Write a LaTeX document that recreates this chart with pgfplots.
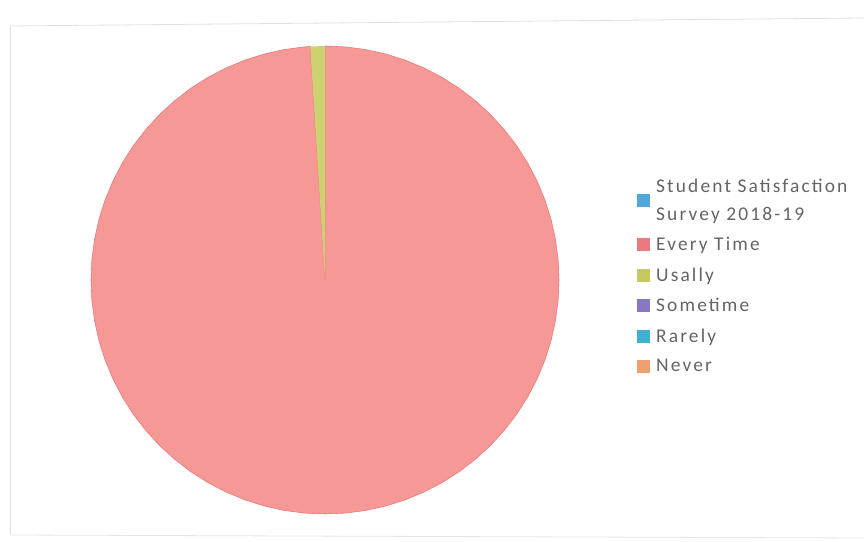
\documentclass[border=0pt]{standalone}
\usepackage{pgfplots}
\pgfplotsset{compat=1.18}
\usepackage{fontspec}
\setmainfont{Carlito}
\newfontfamily\legfont[LetterSpace=11]{Carlito}
\definecolor{cRed}{RGB}{246,152,150}
\definecolor{cRedEdge}{RGB}{236,120,124}
\definecolor{cYel}{RGB}{204,210,112}
\definecolor{cBlue}{RGB}{80,168,216}
\definecolor{cLRed}{RGB}{232,122,128}
\definecolor{cLYel}{RGB}{200,200,96}
\definecolor{cPur}{RGB}{136,120,192}
\definecolor{cCyan}{RGB}{64,176,208}
\definecolor{cOra}{RGB}{240,160,112}
\definecolor{txt}{RGB}{100,100,100}
\begin{document}
\begin{tikzpicture}
\begin{axis}[
  width=864bp, height=542bp, scale only axis,
  axis lines=none,
  xmin=-325, xmax=539, ymin=-262, ymax=280,
  clip=false,
  legend cell align=left,
  legend style={at={(axis cs:309,105)}, anchor=north west, draw=none, fill=none,
    font=\legfont\fontsize{19.5}{28}\selectfont, text=txt,
    cells={align=left},
    row sep=11.5bp, column sep=4bp},
  legend image code/.code={\fill[#1, draw=none] (0bp,-6.5bp) rectangle (13bp,6.5bp);},
]
\draw[black!12, line width=0.8bp] (axis cs:-315,254) -- (axis cs:539,262);
\draw[black!12, line width=0.8bp] (axis cs:-315,254) -- (axis cs:-315,-255);
\draw[black!10, line width=0.8bp] (axis cs:-315,-255) -- (axis cs:539,-258);
\addlegendimage{fill=cBlue}
\addlegendentry{Student Satisfaction\\Survey 2018-19}
\addplot[data cs=polar, fill=cRed, draw=cRedEdge, line width=0.6bp, forget plot] coordinates {
(0,0) (93.6,234) (95,234) (100,234) (105,234) (110,234) (115,234) (120,234) (125,234)
(130,234) (135,234) (140,234) (145,234) (150,234) (155,234) (160,234) (165,234)
(170,234) (175,234) (180,234) (185,234) (190,234) (195,234) (200,234) (205,234)
(210,234) (215,234) (220,234) (225,234) (230,234) (235,234) (240,234) (245,234)
(250,234) (255,234) (260,234) (265,234) (270,234) (275,234) (280,234) (285,234)
(290,234) (295,234) (300,234) (305,234) (310,234) (315,234) (320,234) (325,234)
(330,234) (335,234) (340,234) (345,234) (350,234) (355,234) (360,234) (365,234)
(370,234) (375,234) (380,234) (385,234) (390,234) (395,234) (400,234) (405,234)
(410,234) (415,234) (420,234) (425,234) (430,234) (435,234) (440,234) (445,234)
(450,234) (0,0)} \closedcycle;
\addlegendimage{fill=cLRed}
\addlegendentry{Every Time}
\addplot[data cs=polar, fill=cYel, draw=none, forget plot] coordinates {
(0,0) (90,234) (93.6,234) (0,0)} \closedcycle;
\addlegendimage{fill=cLYel}
\addlegendentry{Usally}
\addlegendimage{fill=cPur}
\addlegendentry{Sometime}
\addlegendimage{fill=cCyan}
\addlegendentry{Rarely}
\addlegendimage{fill=cOra}
\addlegendentry{Never}
\end{axis}
\pgfresetboundingbox
\useasboundingbox (current axis.south west) rectangle (current axis.north east);
\end{tikzpicture}
\end{document}
